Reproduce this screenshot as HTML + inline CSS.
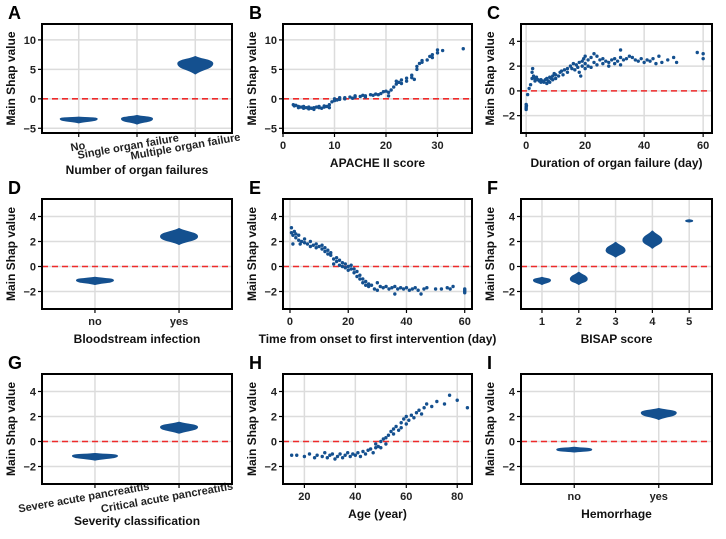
<!DOCTYPE html>
<html><head><meta charset="utf-8">
<style>
html,body{margin:0;padding:0;background:#fff;}
svg{display:block;font-family:"Liberation Sans",Arial,sans-serif;font-weight:bold;}
</style></head>
<body>
<svg id="fig" width="726" height="539" viewBox="0 0 726 539" xmlns="http://www.w3.org/2000/svg"></svg>
<script>
// ---- data ----
const aCategories = ["No", "Single organ failure", "Multiple organ failure"];
const aCenters = [-3.4, -3.4, 6.0];
const aLows = [-4.0, -4.2, 4.3];
const aHighs = [-3.2, -2.9, 7.1];

const bApache = [2,2.2,2.5,3,3,3.5,4,4,4.5,5,5,5.5,6,6,6.5,7,7,7.5,8,8,8.5,9,9,9.5,10,10,10.5,11,11,12,12,13,13.5,14,14,15,15.5,16,16,17,17.5,18,18.5,19,19.5,20,20.5,20.5,21,21.5,22,22,22.5,23,23,24,24,25,25,25.5,26,26,26.5,27,27,28,28.5,29,29,30,30,31,35];
const bShap = [-1,-1.2,-1.1,-1.3,-1.5,-1.4,-1.6,-1.3,-1.5,-1.7,-1.4,-1.6,-1.5,-1.8,-1.4,-1.5,-1.3,-1.6,-1.4,-1.2,-1.3,-1.0,-1.5,-0.5,0,-0.3,-0.2,0.2,-0.1,0.2,0,0.3,0.1,0.5,0.3,0.4,0.6,0.5,0.3,0.7,0.6,0.8,0.7,0.9,1.2,1.3,1.1,0.5,1.5,2.0,2.5,3.0,2.8,2.6,3.2,3.5,3.0,4.0,3.6,3.3,5.0,5.5,6.0,6.5,6.2,6.6,7.2,7.5,7.0,8.3,7.8,8.2,8.5];

const cDuration = [0,0,0,0.1,0,0.5,1,1.5,2,2,2.2,2.5,3,3,3.5,4,4.5,5,5,5.5,6,6.5,7,7,7.5,8,8,8.5,9,9,9.5,10,10,11,11.5,12,12.5,13,14,14,15,15.5,16,16.5,17,17.5,18,18,18.5,19,19,19.5,20,20,20,21,21,22,22,23,23,24,24,25,26,26,27,28,28,29,30,30,31,32,32,32,33,34,35,36,37,38,39,40,41,42,43,44,45,46,48,50,51,58,60,60];
const cShap = [-1.1,-1.3,-1.5,-1.2,-1.4,-0.3,0.2,0.5,1.0,1.5,1.8,1.2,1.0,0.8,1.1,0.9,0.8,0.9,0.7,0.8,0.7,0.9,1.0,0.6,0.8,1.1,0.7,1.0,1.2,0.9,1.4,1.3,1.0,1.2,1.5,1.6,1.3,1.7,1.8,1.5,2.0,1.8,2.2,1.7,2.1,1.9,2.3,1.5,1.2,2.4,2.0,2.6,2.8,2.2,1.8,2.5,2.0,2.7,1.9,3.0,2.3,2.8,2.1,2.5,2.6,2.2,2.4,2.3,2.0,2.5,2.6,2.2,2.4,3.3,2.7,2.1,2.5,2.6,2.8,2.7,2.5,2.4,2.6,2.3,2.5,2.4,2.6,2.2,2.8,2.3,2.5,2.7,2.3,3.1,2.6,3.0];

const dCategories = ["no", "yes"];
const dCenters = [-1.1, 2.4];
const dLows = [-1.4, 1.8];
const dHighs = [-0.9, 3.0];

const eTime = [0.5,0.5,1,1,1.5,2,2,3,3,3.5,4,5,5,6,7,7,8,9,9,10,11,11,12,12,13,13,14,14,15,15,16,16,17,17,18,18,19,19,20,20,21,21,22,22,23,23,24,24,25,25,26,26,27,27,28,29,30,30,31,32,33,34,35,36,36,37,38,39,40,41,42,43,44,45,46,47,50,52,54,55,56,60,60,60,60];
const eShap = [3.1,2.7,2.5,1.8,2.8,2.3,2.6,2.1,2.5,1.8,2.0,1.9,2.2,1.8,2.0,1.6,1.7,1.5,1.8,1.6,1.4,1.7,1.2,1.5,1.0,1.3,0.9,1.1,0.6,0.2,0.7,0.4,0.5,0.1,0.3,0.0,0.2,-0.1,0.0,-0.3,-0.2,0.1,-0.5,-0.2,-0.8,-0.4,-1.0,-0.7,-1.3,-1.0,-1.5,-1.2,-1.6,-1.4,-1.5,-1.8,-1.3,-1.9,-1.6,-1.7,-1.6,-1.8,-1.7,-2.2,-1.6,-1.8,-1.7,-1.8,-1.7,-1.9,-1.8,-1.7,-1.9,-2.2,-1.8,-1.7,-1.8,-1.8,-1.7,-1.8,-1.6,-1.8,-2.0,-1.9,-2.1];

const fCategories = [1, 2, 3, 4, 5];
const fCenters = [-1.1, -1.0, 1.3, 2.1, 3.65];
const fLows = [-1.4, -1.4, 0.8, 1.5, 3.6];
const fHighs = [-0.9, -0.5, 1.9, 2.8, 3.7];

const gCategories = ["Severe acute pancreatitis", "Critical acute pancreatitis"];
const gCenters = [-1.15, 1.15];
const gLows = [-1.45, 0.7];
const gHighs = [-1.0, 1.5];

const hAge = [15,17,20,22,24,25,27,28,29,30,31,32,33,34,35,36,37,38,39,40,41,42,43,44,45,46,47,48,48,49,50,50,51,52,52,53,54,55,55,56,57,58,58,59,60,60,61,62,63,64,65,66,67,68,70,72,75,77,80,84];
const hShap = [-1.1,-1.1,-1.2,-1.0,-1.3,-1.1,-1.2,-0.9,-1.3,-1.1,-1.0,-1.4,-1.2,-1.0,-1.3,-1.1,-0.9,-1.2,-1.0,-1.1,-0.9,-1.2,-0.8,-1.0,-0.7,-0.6,-0.9,-0.5,-0.2,-0.4,0.0,-0.5,0.2,0.3,-0.2,0.5,0.8,0.6,1.0,1.2,0.9,1.5,1.1,1.8,1.4,2.0,1.7,2.1,1.9,2.3,2.5,2.2,2.7,3.0,2.8,3.2,3.0,3.7,3.3,2.7];

const iCategories = ["no", "yes"];
const iCenters = [-0.65, 2.3];
const iLows = [-0.8, 1.8];
const iHighs = [-0.5, 2.6];

// ---- drawing ----
const NS = "http://www.w3.org/2000/svg";
const svg = document.getElementById("fig");
const BLUE = "#14508f";
function mk(tag, attrs, parent) {
  const e = document.createElementNS(NS, tag);
  for (const k in attrs) e.setAttribute(k, attrs[k]);
  (parent || svg).appendChild(e);
  return e;
}
const COLS = [[42, 232], [283, 472], [521, 712]];
const ROWS = [[24, 133], [199, 309], [374, 484]];

function panel(letter, col, row, xdom, ydom, yticks, xticks, xlabels, title, rotate) {
  const [x0, x1] = COLS[col], [y0, y1] = ROWS[row];
  const g = mk("g", {});
  
  
  const sx = v => x0 + (v - xdom[0]) / (xdom[1] - xdom[0]) * (x1 - x0);
  const sy = v => y1 - (v - ydom[0]) / (ydom[1] - ydom[0]) * (y1 - y0);
  const lt = mk("text", {x: x0 - 34, y: y0 - 5, "font-size": 18, fill: "#000"}, g);
  lt.textContent = letter;
  
  
  yticks.forEach(t => mk("line", {x1: x0, x2: x1, y1: sy(t), y2: sy(t), stroke: "#dcdcdc", "stroke-width": 1.5}, g));
  xticks.forEach(t => mk("line", {x1: sx(t), x2: sx(t), y1: y0, y2: y1, stroke: "#dcdcdc", "stroke-width": 1.5}, g));
  mk("line", {x1: x0, x2: x1, y1: sy(0), y2: sy(0), stroke: "#ee2a2a", "stroke-width": 1.6, "stroke-dasharray": "6,4"}, g);
  yticks.forEach(t => {
    mk("line", {x1: x0 - 4, x2: x0, y1: sy(t), y2: sy(t), stroke: "#000", "stroke-width": 1.2}, g);
    const tx = mk("text", {x: x0 - 6, y: sy(t) + 4, "font-size": 11, "text-anchor": "end", fill: "#222"}, g);
    tx.textContent = t < 0 ? "\u2212" + (-t) : t;
    
    
  });
  xticks.forEach((t, i) => {
    mk("line", {x1: sx(t), x2: sx(t), y1: y1, y2: y1 + 4, stroke: "#000", "stroke-width": 1.2}, g);
    let tx;
    if (rotate) {
      const len = String(xlabels[i]).length;
      const cx = sx(t) - len * 0.45;
      const cy = y1 + 17;
      tx = mk("text", {x: cx, y: cy, "font-size": 11, "text-anchor": "middle", fill: "#222", transform: `rotate(-10 ${cx} ${cy - 4})`}, g);
    } else {
      tx = mk("text", {x: sx(t), y: y1 + 16, "font-size": 11, "text-anchor": "middle", fill: "#222"}, g);
    }
    tx.textContent = xlabels[i];
    
    
  });
  mk("rect", {x: x0, y: y0, width: x1 - x0, height: y1 - y0, fill: "none", stroke: "#000", "stroke-width": 2}, g);
  const xt = mk("text", {x: (x0 + x1) / 2, y: y1 + (rotate ? 41 : 34), "font-size": 12, "text-anchor": "middle", fill: "#111"}, g);
  xt.textContent = title;
  
  
  const yx = x0 - 27, yy = (y0 + y1) / 2;
  const yt = mk("text", {x: yx, y: yy, "font-size": 12, "text-anchor": "middle", fill: "#111", transform: `rotate(-90 ${yx} ${yy})`}, g);
  yt.textContent = "Main Shap value";
  
  
  return {g, sx, sy};
}
function scatter(p, xs, ys) {
  xs.forEach((x, i) => {
    const c = mk("circle", {cx: p.sx(x), cy: p.sy(ys[i]), r: 1.7, fill: BLUE}, p.g);
    
    
  });
}
function violins(p, positions, centers, lows, highs, halfw) {
  positions.forEach((x, i) => {
    const cx = p.sx(x), cy = p.sy(centers[i]), yt = p.sy(highs[i]), yb = p.sy(lows[i]), w = halfw[i];
    const ht = cy - yt, hb = yb - cy;
    const d = `M${cx},${yt} C${cx + w * 0.35},${yt + ht * 0.45} ${cx + w},${cy - ht * 0.45} ${cx + w},${cy} ` +
      `C${cx + w},${cy + hb * 0.45} ${cx + w * 0.35},${yb - hb * 0.45} ${cx},${yb} ` +
      `C${cx - w * 0.35},${yb - hb * 0.45} ${cx - w},${cy + hb * 0.45} ${cx - w},${cy} ` +
      `C${cx - w},${cy - ht * 0.45} ${cx - w * 0.35},${yt + ht * 0.45} ${cx},${yt} Z`;
    const v = mk("path", {d, fill: BLUE, stroke: BLUE, "stroke-width": 2, "stroke-linejoin": "round"}, p.g);
    
    
  });
}
const yBig = [-5, 0, 5, 10], yBigDom = [-5.8, 12.7];
const ySm = [-2, 0, 2, 4], ySmDom = [-3.4, 5.4];

let p = panel("A", 0, 0, [0.37, 3.63], yBigDom, yBig, [1, 2, 3], aCategories, "Number of organ failures", true);
violins(p, [1, 2, 3], aCenters, aLows, aHighs, [18, 15, 17]);

p = panel("B", 1, 0, [0, 36.7], yBigDom, yBig, [0, 10, 20, 30], ["0", "10", "20", "30"], "APACHE II score", false);
scatter(p, bApache, bShap);

p = panel("C", 2, 0, [-1.75, 63], ySmDom, ySm, [0, 20, 40, 60], ["0", "20", "40", "60"], "Duration of organ failure (day)", false);
scatter(p, cDuration, cShap);

p = panel("D", 0, 1, [0.37, 2.63], ySmDom, ySm, [1, 2], dCategories, "Bloodstream infection", false);
violins(p, [1, 2], dCenters, dLows, dHighs, [18, 18]);

p = panel("E", 1, 1, [-2.4, 62.5], ySmDom, ySm, [0, 20, 40, 60], ["0", "20", "40", "60"], "Time from onset to first intervention (day)", false);
scatter(p, eTime, eShap);

p = panel("F", 2, 1, [0.43, 5.62], ySmDom, ySm, fCategories, fCategories.map(String), "BISAP score", false);
violins(p, fCategories, fCenters, fLows, fHighs, [8, 8, 9, 9, 3]);

p = panel("G", 0, 2, [0.37, 2.63], ySmDom, ySm, [1, 2], gCategories, "Severity classification", true);
violins(p, [1, 2], gCenters, gLows, gHighs, [22, 18]);

p = panel("H", 1, 2, [11.6, 85.8], ySmDom, ySm, [20, 40, 60, 80], ["20", "40", "60", "80"], "Age (year)", false);
scatter(p, hAge, hShap);

p = panel("I", 2, 2, [0.37, 2.63], ySmDom, ySm, [1, 2], iCategories, "Hemorrhage", false);
violins(p, [1, 2], iCenters, iLows, iHighs, [17, 17]);
</script>
</body></html>
